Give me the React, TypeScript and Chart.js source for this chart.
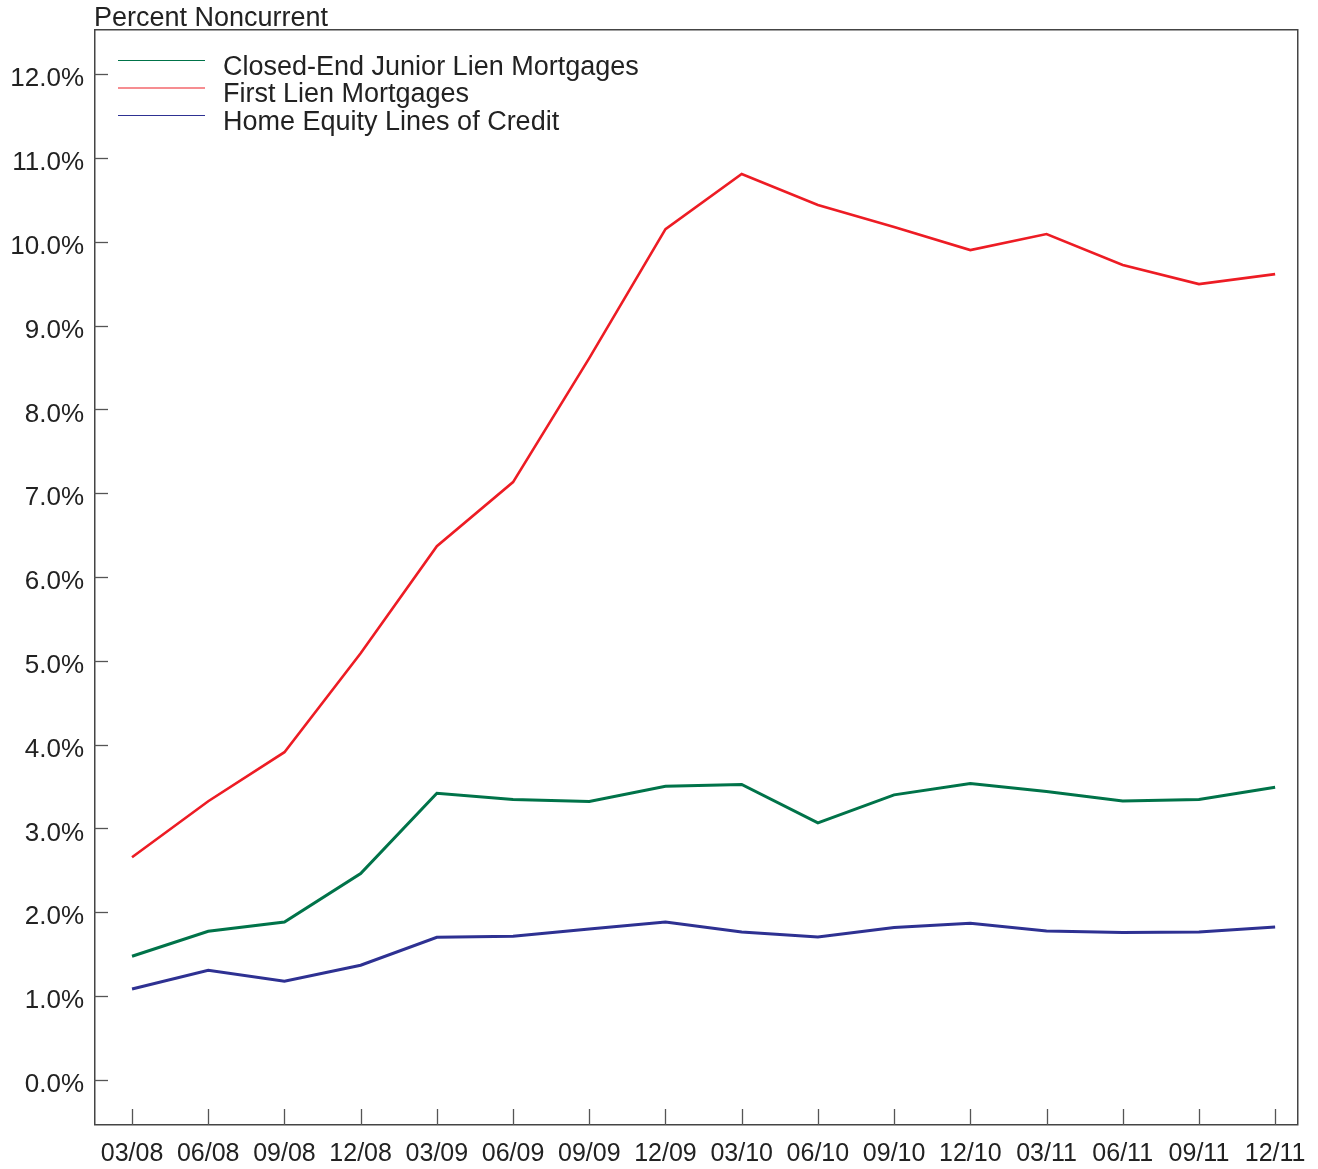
import React, { useEffect, useRef } from "react";
import { Chart, registerables } from "chart.js";

Chart.register(...registerables);

const categories = ["03/08", "06/08", "09/08", "12/08", "03/09", "06/09", "09/09", "12/09", "03/10", "06/10", "09/10", "12/10", "03/11", "06/11", "09/11", "12/11"];

const closedEndJunior = [1.476, 1.774, 1.885, 2.463, 3.421, 3.346, 3.322, 3.504, 3.525, 3.066, 3.401, 3.537, 3.441, 3.329, 3.346, 3.492];
const firstLien = [2.657, 3.325, 3.91, 5.091, 6.368, 7.132, 8.611, 10.15, 10.807, 10.437, 10.174, 9.9, 10.091, 9.721, 9.494, 9.613];
const homeEquity = [1.086, 1.309, 1.178, 1.369, 1.703, 1.715, 1.802, 1.885, 1.766, 1.706, 1.818, 1.87, 1.778, 1.759, 1.766, 1.826];

const yTicks = [0, 1, 2, 3, 4, 5, 6, 7, 8, 9, 10, 11, 12];

const seriesNames = ["Closed-End Junior Lien Mortgages", "First Lien Mortgages", "Home Equity Lines of Credit"];
const seriesColors = ["#007349", "#ED1C24", "#2E3192"];

const FONT = '"Liberation Sans", Arial, Helvetica, sans-serif';

const boxPlugin = {
  id: "boxAndTicks",
  afterDraw(chart: any) {
    const { ctx, chartArea } = chart;
    const { left, right, top, bottom } = chartArea;
    ctx.save();
    ctx.strokeStyle = "#444";
    ctx.lineWidth = 1.5;
    ctx.strokeRect(left + 0.75, top + 0.75, right - left - 1, bottom - top - 1);
    const ys = chart.scales.y;
    ctx.strokeStyle = "#555";
    ctx.lineWidth = 1.3;
    ys.ticks.forEach((t: any) => {
      const py = Math.round(ys.getPixelForValue(t.value)) + 0.5;
      ctx.beginPath();
      ctx.moveTo(left, py);
      ctx.lineTo(left + 14, py);
      ctx.stroke();
    });
    const xs = chart.scales.x;
    xs.ticks.forEach((t: any) => {
      const px = Math.round(xs.getPixelForValue(t.value)) + 0.5;
      ctx.beginPath();
      ctx.moveTo(px, bottom);
      ctx.lineTo(px, bottom - 16);
      ctx.stroke();
    });
    ctx.fillStyle = "#222";
    ctx.font = `27px ${FONT}`;
    ctx.textAlign = "left";
    ctx.textBaseline = "alphabetic";
    ctx.fillText("Percent Noncurrent", left, 26);
    chart.data.datasets.forEach((ds: any, i: number) => {
      const ly = top + 31.5 + i * 27.5;
      ctx.strokeStyle = ds.borderColor;
      ctx.lineWidth = 1.2;
      ctx.beginPath();
      ctx.moveTo(118, ly);
      ctx.lineTo(205, ly);
      ctx.stroke();
      ctx.fillStyle = "#222";
      ctx.font = `27px ${FONT}`;
      ctx.fillText(ds.label, 223, ly + 14);
    });
    ctx.restore();
  },
};

export default function App() {
  const ref = useRef<HTMLCanvasElement | null>(null);
  useEffect(() => {
    if (!ref.current) return;
    const seriesData = [closedEndJunior, firstLien, homeEquity];
    const chart = new Chart(ref.current, {
      type: "line",
      data: {
        datasets: seriesData.map((arr, i) => ({
          label: seriesNames[i],
          data: arr.map((v, j) => ({ x: j, y: v })),
          borderColor: seriesColors[i],
          backgroundColor: seriesColors[i],
          borderWidth: i === 1 ? 2.6 : 3,
          pointRadius: 0,
          tension: 0,
          fill: false,
        })),
      },
      options: {
        responsive: false,
        animation: false,
        devicePixelRatio: 1,
        layout: { padding: { left: 0, top: 29, right: 20, bottom: 0 } },
        plugins: { legend: { display: false }, tooltip: { enabled: false } },
        scales: {
          x: {
            type: "linear",
            min: -0.499,
            max: 15.3,
            grid: { display: false, drawTicks: false },
            border: { display: false },
            afterBuildTicks: (scale: any) => {
              scale.ticks = categories.map((_, i) => ({ value: i }));
            },
            afterFit: (scale: any) => {
              scale.height = 44;
              scale.paddingLeft = 0;
              scale.paddingRight = 0;
            },
            ticks: {
              autoSkip: false,
              maxRotation: 0,
              padding: 14,
              color: "#222",
              font: { family: FONT, size: 25 },
              callback: (v: any) => categories[v as number] ?? "",
            },
          },
          y: {
            type: "linear",
            min: -0.537,
            max: 12.537,
            grid: { display: false, drawTicks: false },
            border: { display: false },
            afterBuildTicks: (scale: any) => {
              scale.ticks = yTicks.map((v) => ({ value: v }));
            },
            afterFit: (scale: any) => {
              scale.width = 94;
              scale.paddingTop = 0;
              scale.paddingBottom = 0;
            },
            ticks: {
              padding: 10,
              labelOffset: 5,
              color: "#222",
              font: { family: FONT, size: 26 },
              callback: (v: any) => `${Number(v).toFixed(1)}%`,
            },
          },
        },
      },
      plugins: [boxPlugin],
    });
    return () => chart.destroy();
  }, []);
  return (
    <canvas
      ref={ref}
      width={1318}
      height={1169}
      style={{ position: "fixed", left: 0, top: 0, width: 1318, height: 1169 }}
    />
  );
}
